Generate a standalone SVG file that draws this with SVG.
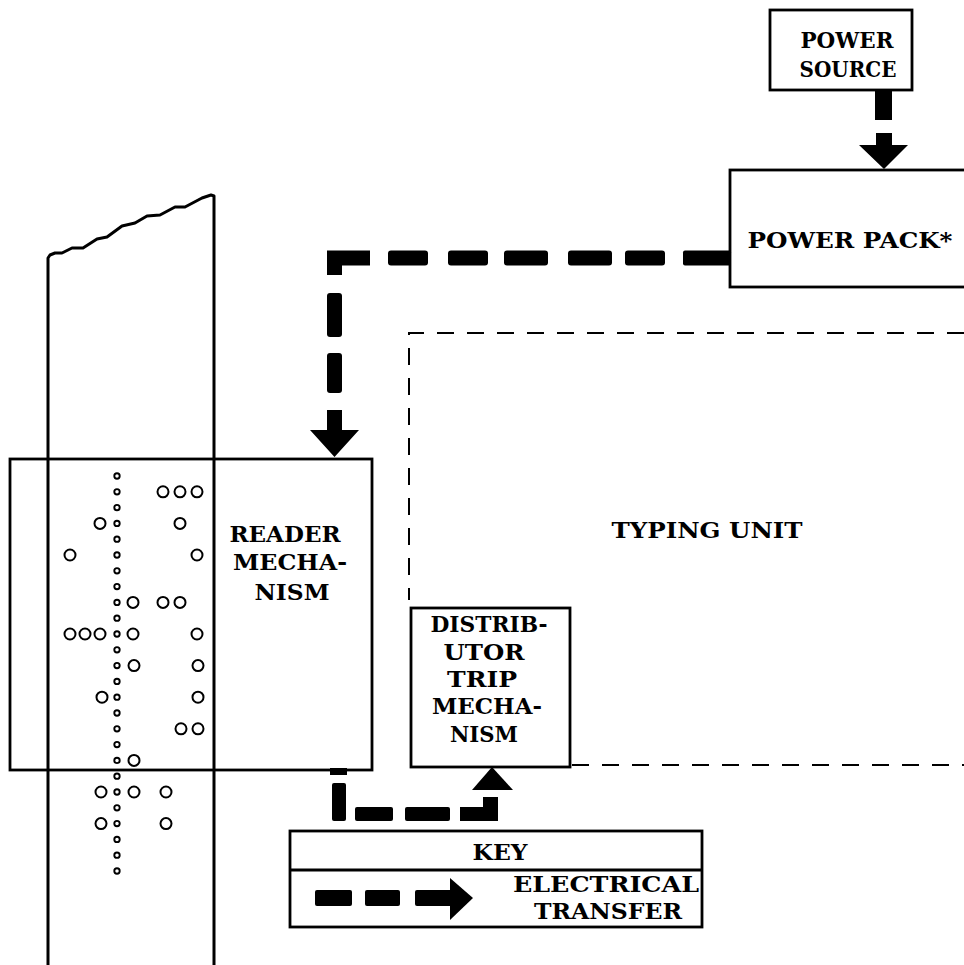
<svg xmlns="http://www.w3.org/2000/svg" width="964" height="965" viewBox="0 0 964 965">
<style>
.bg{fill:#fff}
.box{fill:none;stroke:#000;stroke-width:2.8}
.thin{fill:none;stroke:#000;stroke-width:2;stroke-dasharray:17 13}
.tape{fill:none;stroke:#000;stroke-width:3;stroke-linejoin:round}
.feed{fill:none;stroke:#000;stroke-width:1.9}
.hole{fill:none;stroke:#000;stroke-width:2}
.bar{fill:#000}
text{font-family:"DejaVu Serif","Liberation Serif",serif;font-weight:bold;font-size:22.5px;fill:#000;text-anchor:middle}
</style>
<rect class="bg" x="0" y="0" width="964" height="965"/>

<g id="tape">
<path class="tape" d="M48,965 L48,258 L50,255 L55,253 L62,253 L72,248 L83,248 L97,239 L107,237 L122,226 L135,223 L147,216 L160,215 L175,207 L185,207 L202,198 L211,195 L214,196 L214,965"/>
<g id="feed-holes">
<circle class="feed" cx="117" cy="476" r="2.7"/>
<circle class="feed" cx="117" cy="491.8" r="2.7"/>
<circle class="feed" cx="117" cy="507.6" r="2.7"/>
<circle class="feed" cx="117" cy="523.4" r="2.7"/>
<circle class="feed" cx="117" cy="539.2" r="2.7"/>
<circle class="feed" cx="117" cy="555" r="2.7"/>
<circle class="feed" cx="117" cy="570.8" r="2.7"/>
<circle class="feed" cx="117" cy="586.6" r="2.7"/>
<circle class="feed" cx="117" cy="602.4" r="2.7"/>
<circle class="feed" cx="117" cy="618.2" r="2.7"/>
<circle class="feed" cx="117" cy="634" r="2.7"/>
<circle class="feed" cx="117" cy="649.8" r="2.7"/>
<circle class="feed" cx="117" cy="665.6" r="2.7"/>
<circle class="feed" cx="117" cy="681.4" r="2.7"/>
<circle class="feed" cx="117" cy="697.2" r="2.7"/>
<circle class="feed" cx="117" cy="713" r="2.7"/>
<circle class="feed" cx="117" cy="728.8" r="2.7"/>
<circle class="feed" cx="117" cy="744.6" r="2.7"/>
<circle class="feed" cx="117" cy="760.4" r="2.7"/>
<circle class="feed" cx="117" cy="776.2" r="2.7"/>
<circle class="feed" cx="117" cy="792" r="2.7"/>
<circle class="feed" cx="117" cy="807.8" r="2.7"/>
<circle class="feed" cx="117" cy="823.6" r="2.7"/>
<circle class="feed" cx="117" cy="839.4" r="2.7"/>
<circle class="feed" cx="117" cy="855.2" r="2.7"/>
<circle class="feed" cx="117" cy="871" r="2.7"/>
</g>
<g id="data-holes">
<circle class="hole" cx="163" cy="491.8" r="5.5"/>
<circle class="hole" cx="180" cy="491.8" r="5.5"/>
<circle class="hole" cx="197" cy="491.8" r="5.5"/>
<circle class="hole" cx="100" cy="523.4" r="5.5"/>
<circle class="hole" cx="180" cy="523.4" r="5.5"/>
<circle class="hole" cx="70" cy="555" r="5.5"/>
<circle class="hole" cx="197" cy="555" r="5.5"/>
<circle class="hole" cx="133" cy="602.4" r="5.5"/>
<circle class="hole" cx="163" cy="602.4" r="5.5"/>
<circle class="hole" cx="180" cy="602.4" r="5.5"/>
<circle class="hole" cx="70" cy="634" r="5.5"/>
<circle class="hole" cx="85" cy="634" r="5.5"/>
<circle class="hole" cx="100" cy="634" r="5.5"/>
<circle class="hole" cx="133" cy="634" r="5.5"/>
<circle class="hole" cx="197" cy="634" r="5.5"/>
<circle class="hole" cx="134" cy="665.6" r="5.5"/>
<circle class="hole" cx="198" cy="665.6" r="5.5"/>
<circle class="hole" cx="102" cy="697.2" r="5.5"/>
<circle class="hole" cx="198" cy="697.2" r="5.5"/>
<circle class="hole" cx="181" cy="728.8" r="5.5"/>
<circle class="hole" cx="198" cy="728.8" r="5.5"/>
<circle class="hole" cx="134" cy="760.4" r="5.5"/>
<circle class="hole" cx="101" cy="792" r="5.5"/>
<circle class="hole" cx="134" cy="792" r="5.5"/>
<circle class="hole" cx="166" cy="792" r="5.5"/>
<circle class="hole" cx="101" cy="823.6" r="5.5"/>
<circle class="hole" cx="166" cy="823.6" r="5.5"/>
</g>
</g>

<g id="power-source">
<rect class="box" x="770" y="10" width="142" height="80"/>
<text x="847" y="48" textLength="93" lengthAdjust="spacingAndGlyphs">POWER</text>
<text x="848" y="77" textLength="97" lengthAdjust="spacingAndGlyphs">SOURCE</text>
</g>

<g id="power-pack">
<rect class="box" x="730" y="170" width="250" height="117"/>
<text x="850" y="248" textLength="205" lengthAdjust="spacingAndGlyphs">POWER PACK*</text>
</g>

<g id="typing-unit">
<path class="thin" d="M964,333 H409 V600"/>
<path class="thin" d="M572,765 H964"/>
<text x="707" y="538" textLength="191" lengthAdjust="spacingAndGlyphs">TYPING UNIT</text>
</g>

<g id="reader-mechanism">
<rect class="box" x="10" y="459" width="362" height="311"/>
<text x="285" y="542" textLength="111" lengthAdjust="spacingAndGlyphs">READER</text>
<text x="290" y="570" textLength="114" lengthAdjust="spacingAndGlyphs">MECHA-</text>
<text x="292" y="600" textLength="75" lengthAdjust="spacingAndGlyphs">NISM</text>
</g>

<g id="distributor-trip-mechanism">
<rect class="box" x="411" y="608" width="159" height="159"/>
<text x="489" y="632" textLength="117" lengthAdjust="spacingAndGlyphs">DISTRIB-</text>
<text x="484" y="660" textLength="81" lengthAdjust="spacingAndGlyphs">UTOR</text>
<text x="482" y="687" textLength="70" lengthAdjust="spacingAndGlyphs">TRIP</text>
<text x="487" y="714" textLength="110" lengthAdjust="spacingAndGlyphs">MECHA-</text>
<text x="484" y="742" textLength="68" lengthAdjust="spacingAndGlyphs">NISM</text>
</g>

<g id="key">
<rect class="box" x="290" y="831" width="412" height="96"/>
<line class="box" x1="290" y1="870" x2="702" y2="870"/>
<text x="500" y="860" textLength="55" lengthAdjust="spacingAndGlyphs">KEY</text>
<text x="606" y="892" textLength="186" lengthAdjust="spacingAndGlyphs">ELECTRICAL</text>
<text x="608" y="919" textLength="148" lengthAdjust="spacingAndGlyphs">TRANSFER</text>
<rect class="bar" x="315" y="890" width="37" height="16" rx="2"/>
<rect class="bar" x="365" y="890" width="35" height="16" rx="2"/>
<rect class="bar" x="415" y="890" width="37" height="16" rx="2"/>
<path class="bar" d="M450,878 L473,898 L450,920 Z"/>
</g>

<g id="connectors">
<g id="source-to-pack">
<rect class="bar" x="875" y="90" width="17" height="30"/>
<path class="bar" d="M876,133 H892 V145 H908 L884,169 L859,145 H876 Z"/>
</g>
<g id="pack-to-reader">
<rect class="bar" x="683" y="250.5" width="48" height="15" rx="2"/>
<rect class="bar" x="625" y="250.5" width="40" height="15" rx="3"/>
<rect class="bar" x="568" y="250.5" width="44" height="15" rx="3"/>
<rect class="bar" x="504" y="250.5" width="44" height="15" rx="3"/>
<rect class="bar" x="448" y="250.5" width="40" height="15" rx="3"/>
<rect class="bar" x="388" y="250.5" width="40" height="15" rx="3"/>
<path class="bar" d="M327,250.5 H370 V265.5 H342 V275 H327 Z"/>
<rect class="bar" x="327" y="293" width="15" height="44" rx="3"/>
<rect class="bar" x="327" y="353" width="15" height="40" rx="3"/>
<path class="bar" d="M327,410 H342 V430 H359 L334.5,457 L310,430 H327 Z"/>
</g>
<g id="reader-to-distributor">
<rect class="bar" x="330" y="768" width="17" height="7"/>
<rect class="bar" x="332" y="783" width="14" height="38" rx="2"/>
<rect class="bar" x="355" y="807" width="38" height="14" rx="2"/>
<rect class="bar" x="405" y="807" width="45" height="14" rx="2"/>
<path class="bar" d="M460,807 H483 V797 H498 V821 H460 Z"/>
<path class="bar" d="M472,790 H513 L492,767 Z"/>
</g>
</g>
</svg>
